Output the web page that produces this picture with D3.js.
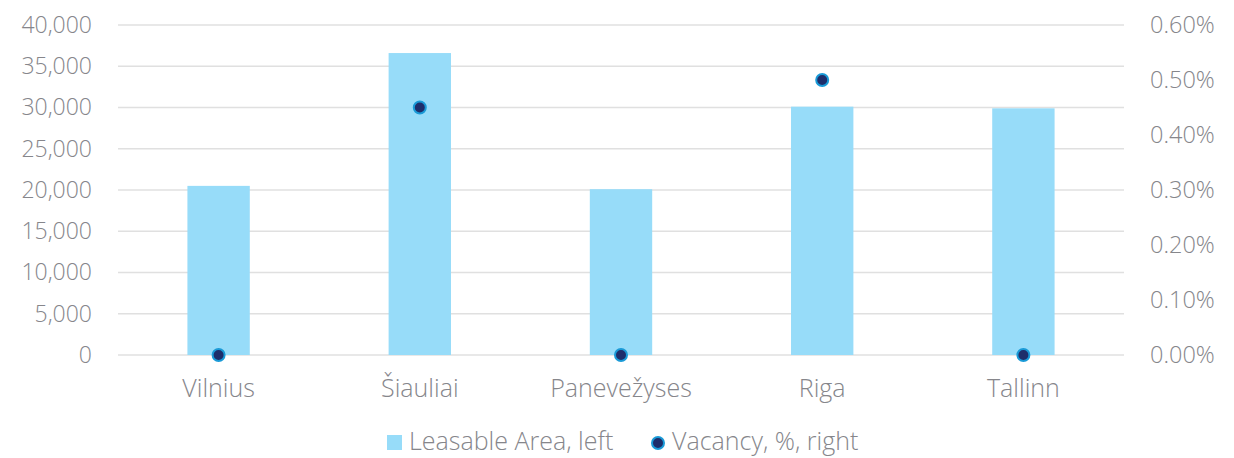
<!DOCTYPE html>
<html>
<head>
<meta charset="utf-8">
<style>
  body { margin: 0; background: #fff; }
  text { font-family: "Open Sans", sans-serif; font-weight: 300; fill: #86868b; }
</style>
</head>
<body>
<script src="https://d3js.org/d3.v7.min.js"></script>
<script>
// chart size
var width = 1234;
var height = 458;
var margin = { top: 25, right: 110, bottom: 103, left: 118 };

// data
var cities = ['Vilnius', 'Šiauliai', 'Panevežyses', 'Riga', 'Tallinn'];
var leasableArea = [20500, 36600, 20100, 30100, 29900];
var vacancy = [0.0, 0.45, 0.0, 0.50, 0.0];   // percent
var leftTicks = [0, 5000, 10000, 15000, 20000, 25000, 30000, 35000, 40000];
var rightTicks = [0, 0.1, 0.2, 0.3, 0.4, 0.5, 0.6];

var svg = d3.select('body').append('svg')
  .attr('width', width)
  .attr('height', height);

var innerW = width - margin.left - margin.right;
var innerH = height - margin.top - margin.bottom;

var x = d3.scaleBand().domain(cities).range([0, innerW]).paddingInner(0.69).paddingOuter(0.345);
var xc = d3.scaleBand().domain(cities).range([0, innerW]);
var yL = d3.scaleLinear().domain([0, 40000]).range([innerH, 0]);
var yR = d3.scaleLinear().domain([0, 0.6]).range([innerH, 0]);

var g = svg.append('g').attr('transform', 'translate(' + margin.left + ',' + margin.top + ')');

// gridlines
g.append('g')
  .selectAll('line')
  .data(leftTicks)
  .enter().append('line')
  .attr('x1', 0).attr('x2', innerW)
  .attr('y1', function(d) { return yL(d); })
  .attr('y2', function(d) { return yL(d); })
  .attr('stroke', '#e0e0e0')
  .attr('stroke-width', 1.5);

// left axis
var fmt = d3.format(',');
var yAxisL = d3.axisLeft(yL).tickValues(leftTicks).tickFormat(fmt).tickSize(0).tickPadding(26);
g.append('g').call(yAxisL)
  .call(function(s) { s.select('.domain').remove(); })
  .selectAll('text').style('font-size', '23px').attr('fill', '#86868b');

// right axis
var yAxisR = d3.axisRight(yR).tickValues(rightTicks).tickFormat(function(d) { return d.toFixed(2) + '%'; }).tickSize(0).tickPadding(26);
g.append('g').attr('transform', 'translate(' + innerW + ',0)').call(yAxisR)
  .call(function(s) { s.select('.domain').remove(); })
  .selectAll('text').style('font-size', '23.5px').attr('fill', '#86868b');

// bars
g.append('g')
  .selectAll('rect')
  .data(cities)
  .enter().append('rect')
  .attr('x', function(d) { return x(d); })
  .attr('width', x.bandwidth())
  .attr('y', function(d, i) { return yL(leasableArea[i]); })
  .attr('height', function(d, i) { return innerH - yL(leasableArea[i]); })
  .attr('fill', '#97dcf9');

// x axis labels
var xAxis = d3.axisBottom(xc).tickSize(0).tickPadding(24);
g.append('g').attr('transform', 'translate(0,' + innerH + ')').call(xAxis)
  .call(function(s) { s.select('.domain').remove(); })
  .selectAll('text').style('font-size', '25px').attr('fill', '#86868b');

// vacancy markers
g.append('g')
  .selectAll('circle')
  .data(cities)
  .enter().append('circle')
  .attr('cx', function(d) { return xc(d) + xc.bandwidth() / 2; })
  .attr('cy', function(d, i) { return yR(vacancy[i]); })
  .attr('r', 6)
  .attr('fill', '#1e2e6b')
  .attr('stroke', '#1a9ad7')
  .attr('stroke-width', 2);

// legend
var leg = svg.append('g').attr('transform', 'translate(0,441)');
leg.append('rect').attr('x', 387).attr('y', -6).attr('width', 15).attr('height', 15).attr('fill', '#97dcf9');
leg.append('text').attr('x', 409).attr('y', 0).attr('dy', '0.35em').style('font-size', '25px').text('Leasable Area, left');
leg.append('circle').attr('cx', 658).attr('cy', 2).attr('r', 6)
  .attr('fill', '#1e2e6b').attr('stroke', '#1a9ad7').attr('stroke-width', 2);
leg.append('text').attr('x', 672).attr('y', 0).attr('dy', '0.35em').style('font-size', '25px').text('Vacancy, %, right');
</script>
</body>
</html>
